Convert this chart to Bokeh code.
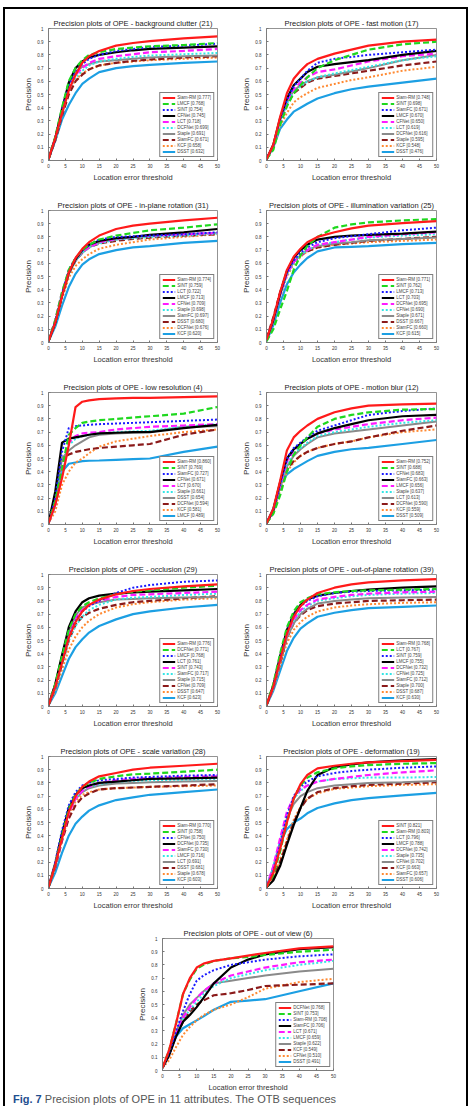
from bokeh.plotting import figure
from bokeh.layouts import column, row
from bokeh.models import Range1d, FixedTicker, PrintfTickFormatter, Legend, LegendItem, Div
from bokeh.embed import file_html
from bokeh.resources import INLINE

THRESHOLDS = [0, 2, 4, 6, 8, 10, 12, 15, 20, 25, 30, 40, 50]
X_TICKS = [0, 5, 10, 15, 20, 25, 30, 35, 40, 45, 50]
Y_TICKS = [0, 0.1, 0.2, 0.3, 0.4, 0.5, 0.6, 0.7, 0.8, 0.9, 1]

LINE_COLORS = ["#ff1a1a", "#1ed81e", "#1a1aff", "#000000", "#ff1aff",
               "#33e6e6", "#8a8a8a", "#8b1a1a", "#ff8a33", "#1c9fe3"]
LINE_DASHES = ["solid", "6 3", "2 2", "solid", "6 3", "2 2", "solid", "6 3", "2 2", "solid"]
LINE_WIDTHS = [2.2, 2.2, 2.0, 2.2, 2.2, 2.0, 2.0, 2.2, 2.0, 2.2]

# 1 background clutter
BC_TITLE = "Precision plots of OPE - background clutter (21)"
BC_NAMES = ["Siam-RM", "LMCF", "SINT", "CFNet", "LCT", "DCFNet", "Staple", "SiamFC", "KCF", "DSST"]
BC_SCORES = [0.777, 0.768, 0.754, 0.745, 0.718, 0.699, 0.691, 0.671, 0.658, 0.632]
BC_CURVES = [
    [0.01, 0.17, 0.36, 0.53, 0.65, 0.74, 0.79, 0.83, 0.87, 0.89, 0.905, 0.925, 0.94],
    [0.01, 0.18, 0.40, 0.60, 0.70, 0.76, 0.80, 0.82, 0.845, 0.855, 0.865, 0.875, 0.89],
    [0.01, 0.17, 0.38, 0.57, 0.67, 0.73, 0.77, 0.80, 0.83, 0.845, 0.86, 0.87, 0.885],
    [0.01, 0.17, 0.38, 0.59, 0.70, 0.75, 0.78, 0.80, 0.82, 0.835, 0.845, 0.855, 0.865],
    [0.01, 0.17, 0.37, 0.55, 0.65, 0.70, 0.74, 0.77, 0.79, 0.805, 0.82, 0.83, 0.845],
    [0.01, 0.16, 0.36, 0.53, 0.63, 0.68, 0.72, 0.75, 0.77, 0.785, 0.795, 0.805, 0.815],
    [0.01, 0.17, 0.40, 0.58, 0.67, 0.71, 0.73, 0.75, 0.76, 0.77, 0.78, 0.79, 0.795],
    [0.01, 0.15, 0.34, 0.50, 0.60, 0.65, 0.69, 0.72, 0.74, 0.755, 0.765, 0.78, 0.79],
    [0.01, 0.16, 0.35, 0.52, 0.61, 0.66, 0.69, 0.72, 0.74, 0.75, 0.76, 0.77, 0.78],
    [0.01, 0.15, 0.31, 0.42, 0.51, 0.58, 0.62, 0.67, 0.70, 0.715, 0.725, 0.74, 0.75],
]

# 2 fast motion
FM_TITLE = "Precision plots of OPE - fast motion (17)"
FM_NAMES = ["Siam-RM", "SINT", "SiamFC", "LMCF", "CFNet", "LCT", "DCFNet", "Staple", "KCF", "DSST"]
FM_SCORES = [0.748, 0.698, 0.671, 0.670, 0.650, 0.619, 0.616, 0.595, 0.548, 0.476]
FM_CURVES = [
    [0.01, 0.12, 0.33, 0.51, 0.62, 0.68, 0.73, 0.77, 0.81, 0.84, 0.87, 0.90, 0.915],
    [0.01, 0.08, 0.27, 0.41, 0.51, 0.57, 0.63, 0.70, 0.76, 0.80, 0.84, 0.88, 0.90],
    [0.01, 0.11, 0.30, 0.46, 0.56, 0.62, 0.68, 0.74, 0.77, 0.785, 0.80, 0.82, 0.84],
    [0.01, 0.12, 0.32, 0.47, 0.57, 0.62, 0.67, 0.71, 0.73, 0.745, 0.76, 0.80, 0.83],
    [0.01, 0.11, 0.30, 0.45, 0.54, 0.59, 0.63, 0.67, 0.69, 0.72, 0.75, 0.79, 0.81],
    [0.01, 0.10, 0.29, 0.43, 0.52, 0.56, 0.60, 0.63, 0.66, 0.685, 0.71, 0.76, 0.79],
    [0.01, 0.11, 0.30, 0.44, 0.53, 0.57, 0.60, 0.63, 0.65, 0.675, 0.70, 0.76, 0.80],
    [0.01, 0.10, 0.28, 0.42, 0.51, 0.55, 0.59, 0.62, 0.64, 0.66, 0.68, 0.72, 0.75],
    [0.01, 0.10, 0.26, 0.36, 0.44, 0.48, 0.51, 0.55, 0.58, 0.61, 0.63, 0.68, 0.71],
    [0.01, 0.10, 0.24, 0.31, 0.37, 0.40, 0.43, 0.47, 0.51, 0.54, 0.56, 0.59, 0.62],
]

# 3 in-plane rotation
IPR_TITLE = "Precision plots of OPE - in-plane rotation (31)"
IPR_NAMES = ["Siam-RM", "SINT", "LCT", "LMCF", "CFNet", "Staple", "SiamFC", "DSST", "DCFNet", "KCF"]
IPR_SCORES = [0.774, 0.759, 0.722, 0.713, 0.709, 0.698, 0.697, 0.680, 0.676, 0.620]
IPR_CURVES = [
    [0.01, 0.15, 0.35, 0.53, 0.64, 0.71, 0.76, 0.81, 0.86, 0.885, 0.90, 0.925, 0.945],
    [0.01, 0.17, 0.38, 0.55, 0.64, 0.70, 0.74, 0.78, 0.81, 0.83, 0.85, 0.87, 0.895],
    [0.01, 0.16, 0.37, 0.55, 0.64, 0.70, 0.74, 0.78, 0.80, 0.805, 0.81, 0.82, 0.835],
    [0.01, 0.15, 0.36, 0.53, 0.63, 0.70, 0.74, 0.77, 0.79, 0.80, 0.815, 0.835, 0.86],
    [0.01, 0.17, 0.38, 0.54, 0.63, 0.69, 0.72, 0.76, 0.785, 0.80, 0.81, 0.82, 0.83],
    [0.01, 0.16, 0.37, 0.53, 0.62, 0.68, 0.72, 0.75, 0.78, 0.79, 0.80, 0.81, 0.825],
    [0.01, 0.15, 0.35, 0.52, 0.62, 0.68, 0.72, 0.755, 0.78, 0.795, 0.805, 0.82, 0.83],
    [0.01, 0.15, 0.35, 0.52, 0.62, 0.68, 0.72, 0.75, 0.77, 0.785, 0.795, 0.81, 0.82],
    [0.01, 0.14, 0.33, 0.49, 0.58, 0.63, 0.67, 0.71, 0.74, 0.76, 0.78, 0.80, 0.82],
    [0.01, 0.12, 0.28, 0.42, 0.52, 0.59, 0.63, 0.67, 0.70, 0.72, 0.73, 0.755, 0.77],
]

# 4 illumination variation
IV_TITLE = "Precision plots of OPE - illumination variation (25)"
IV_NAMES = ["Siam-RM", "SINT", "LMCF", "LCT", "DCFNet", "CFNet", "Staple", "DSST", "SiamFC", "KCF"]
IV_SCORES = [0.771, 0.762, 0.713, 0.703, 0.695, 0.690, 0.671, 0.667, 0.660, 0.615]
IV_CURVES = [
    [0.02, 0.18, 0.38, 0.55, 0.65, 0.71, 0.76, 0.80, 0.835, 0.865, 0.885, 0.905, 0.92],
    [0.01, 0.10, 0.25, 0.39, 0.55, 0.66, 0.73, 0.80, 0.87, 0.895, 0.91, 0.925, 0.935],
    [0.02, 0.17, 0.37, 0.53, 0.62, 0.68, 0.72, 0.76, 0.79, 0.805, 0.82, 0.85, 0.87],
    [0.02, 0.17, 0.37, 0.54, 0.64, 0.70, 0.74, 0.78, 0.80, 0.81, 0.815, 0.825, 0.84],
    [0.02, 0.17, 0.36, 0.52, 0.61, 0.66, 0.70, 0.74, 0.76, 0.78, 0.80, 0.82, 0.835],
    [0.02, 0.16, 0.35, 0.51, 0.60, 0.66, 0.70, 0.74, 0.76, 0.78, 0.795, 0.81, 0.82],
    [0.02, 0.17, 0.36, 0.52, 0.61, 0.66, 0.70, 0.73, 0.75, 0.76, 0.775, 0.785, 0.795],
    [0.03, 0.19, 0.38, 0.53, 0.61, 0.66, 0.69, 0.72, 0.74, 0.755, 0.77, 0.785, 0.80],
    [0.02, 0.16, 0.34, 0.50, 0.59, 0.65, 0.69, 0.72, 0.74, 0.75, 0.76, 0.77, 0.78],
    [0.01, 0.13, 0.30, 0.44, 0.53, 0.59, 0.64, 0.69, 0.72, 0.725, 0.73, 0.745, 0.755],
]

# 5 low resolution
LR_TITLE = "Precision plots of OPE - low resolution (4)"
LR_NAMES = ["Siam-RM", "SINT", "SiamFC", "CFNet", "LCT", "Staple", "DSST", "DCFNet", "KCF", "LMCF"]
LR_SCORES = [0.860, 0.769, 0.727, 0.671, 0.670, 0.661, 0.654, 0.594, 0.581, 0.489]
LR_CURVES = [
    [0.01, 0.15, 0.35, 0.60, 0.89, 0.93, 0.94, 0.95, 0.955, 0.96, 0.96, 0.965, 0.97],
    [0.01, 0.18, 0.42, 0.68, 0.73, 0.77, 0.78, 0.79, 0.80, 0.81, 0.82, 0.84, 0.89],
    [0.01, 0.20, 0.55, 0.73, 0.745, 0.75, 0.755, 0.76, 0.765, 0.77, 0.775, 0.785, 0.795],
    [0.01, 0.25, 0.62, 0.65, 0.66, 0.67, 0.68, 0.69, 0.695, 0.70, 0.70, 0.73, 0.755],
    [0.01, 0.15, 0.40, 0.62, 0.67, 0.69, 0.695, 0.70, 0.72, 0.73, 0.74, 0.75, 0.76],
    [0.01, 0.14, 0.38, 0.60, 0.65, 0.67, 0.68, 0.69, 0.70, 0.705, 0.71, 0.74, 0.76],
    [0.01, 0.18, 0.50, 0.56, 0.60, 0.63, 0.66, 0.68, 0.69, 0.695, 0.70, 0.74, 0.745],
    [0.01, 0.18, 0.50, 0.53, 0.55, 0.56, 0.57, 0.58, 0.59, 0.60, 0.61, 0.68, 0.72],
    [0.01, 0.10, 0.30, 0.40, 0.47, 0.50, 0.54, 0.59, 0.63, 0.65, 0.67, 0.70, 0.72],
    [0.01, 0.15, 0.40, 0.46, 0.47, 0.48, 0.483, 0.485, 0.49, 0.495, 0.50, 0.55, 0.59],
]

# 6 motion blur
MB_TITLE = "Precision plots of OPE - motion blur (12)"
MB_NAMES = ["Siam-RM", "SINT", "CFNet", "SiamFC", "LMCF", "Staple", "LCT", "DCFNet", "KCF", "DSST"]
MB_SCORES = [0.752, 0.688, 0.683, 0.663, 0.656, 0.637, 0.613, 0.590, 0.559, 0.509]
MB_CURVES = [
    [0.01, 0.12, 0.33, 0.56, 0.66, 0.71, 0.75, 0.80, 0.85, 0.88, 0.90, 0.91, 0.915],
    [0.01, 0.08, 0.22, 0.40, 0.53, 0.60, 0.66, 0.74, 0.80, 0.83, 0.85, 0.87, 0.875],
    [0.01, 0.10, 0.30, 0.50, 0.58, 0.62, 0.66, 0.71, 0.75, 0.79, 0.83, 0.86, 0.88],
    [0.01, 0.11, 0.32, 0.50, 0.57, 0.61, 0.65, 0.69, 0.73, 0.76, 0.79, 0.82, 0.83],
    [0.01, 0.10, 0.30, 0.48, 0.56, 0.61, 0.65, 0.69, 0.72, 0.74, 0.76, 0.79, 0.81],
    [0.01, 0.10, 0.29, 0.46, 0.54, 0.58, 0.62, 0.67, 0.70, 0.72, 0.74, 0.77, 0.79],
    [0.01, 0.10, 0.28, 0.44, 0.52, 0.57, 0.61, 0.66, 0.69, 0.705, 0.72, 0.75, 0.78],
    [0.01, 0.09, 0.27, 0.42, 0.48, 0.52, 0.55, 0.58, 0.61, 0.63, 0.66, 0.71, 0.75],
    [0.01, 0.09, 0.26, 0.40, 0.47, 0.52, 0.55, 0.58, 0.61, 0.63, 0.66, 0.70, 0.72],
    [0.01, 0.12, 0.30, 0.38, 0.42, 0.45, 0.48, 0.52, 0.55, 0.57, 0.58, 0.61, 0.64],
]

# 7 occlusion
OCC_TITLE = "Precision plots of OPE - occlusion (29)"
OCC_NAMES = ["Siam-RM", "DCFNet", "LMCF", "LCT", "SINT", "SiamFC", "Staple", "CFNet", "DSST", "KCF"]
OCC_SCORES = [0.776, 0.771, 0.768, 0.761, 0.743, 0.717, 0.715, 0.709, 0.647, 0.623]
OCC_CURVES = [
    [0.01, 0.15, 0.33, 0.52, 0.64, 0.72, 0.77, 0.81, 0.85, 0.875, 0.89, 0.91, 0.925],
    [0.01, 0.17, 0.38, 0.58, 0.70, 0.76, 0.79, 0.82, 0.85, 0.87, 0.88, 0.90, 0.915],
    [0.01, 0.15, 0.34, 0.53, 0.65, 0.72, 0.76, 0.80, 0.86, 0.90, 0.92, 0.945, 0.955],
    [0.01, 0.17, 0.39, 0.60, 0.72, 0.79, 0.82, 0.84, 0.855, 0.865, 0.87, 0.88, 0.89],
    [0.01, 0.16, 0.36, 0.55, 0.67, 0.73, 0.77, 0.80, 0.83, 0.845, 0.85, 0.86, 0.87],
    [0.01, 0.14, 0.32, 0.50, 0.61, 0.68, 0.73, 0.77, 0.81, 0.825, 0.83, 0.845, 0.855],
    [0.01, 0.16, 0.37, 0.57, 0.69, 0.75, 0.77, 0.79, 0.81, 0.815, 0.82, 0.825, 0.83],
    [0.01, 0.14, 0.32, 0.50, 0.62, 0.68, 0.71, 0.74, 0.77, 0.79, 0.80, 0.82, 0.835],
    [0.01, 0.12, 0.28, 0.43, 0.53, 0.60, 0.65, 0.70, 0.75, 0.775, 0.79, 0.81, 0.82],
    [0.01, 0.10, 0.23, 0.36, 0.45, 0.51, 0.56, 0.61, 0.66, 0.70, 0.72, 0.75, 0.77],
]

# 8 out-of-plane rotation
OPR_TITLE = "Precision plots of OPE - out-of-plane rotation (39)"
OPR_NAMES = ["Siam-RM", "LCT", "SINT", "LMCF", "DCFNet", "CFNet", "SiamFC", "Staple", "DSST", "KCF"]
OPR_SCORES = [0.768, 0.767, 0.759, 0.755, 0.732, 0.725, 0.712, 0.700, 0.687, 0.630]
OPR_CURVES = [
    [0.01, 0.15, 0.35, 0.55, 0.68, 0.76, 0.81, 0.86, 0.90, 0.925, 0.94, 0.955, 0.965],
    [0.01, 0.17, 0.40, 0.60, 0.72, 0.79, 0.82, 0.85, 0.865, 0.875, 0.88, 0.885, 0.89],
    [0.01, 0.15, 0.37, 0.57, 0.69, 0.76, 0.80, 0.835, 0.86, 0.87, 0.875, 0.88, 0.885],
    [0.01, 0.16, 0.38, 0.58, 0.70, 0.77, 0.81, 0.84, 0.86, 0.875, 0.885, 0.90, 0.91],
    [0.01, 0.15, 0.36, 0.55, 0.66, 0.73, 0.77, 0.81, 0.83, 0.845, 0.855, 0.865, 0.87],
    [0.01, 0.14, 0.35, 0.54, 0.65, 0.72, 0.76, 0.80, 0.82, 0.835, 0.845, 0.855, 0.86],
    [0.01, 0.14, 0.34, 0.52, 0.63, 0.70, 0.74, 0.78, 0.80, 0.81, 0.82, 0.825, 0.83],
    [0.01, 0.14, 0.33, 0.52, 0.63, 0.69, 0.73, 0.76, 0.78, 0.79, 0.80, 0.805, 0.81],
    [0.01, 0.13, 0.31, 0.48, 0.58, 0.64, 0.68, 0.72, 0.75, 0.765, 0.775, 0.785, 0.79],
    [0.01, 0.12, 0.27, 0.42, 0.52, 0.59, 0.63, 0.68, 0.71, 0.73, 0.745, 0.755, 0.765],
]

# 9 scale variation
SV_TITLE = "Precision plots of OPE - scale variation (28)"
SV_NAMES = ["Siam-RM", "SINT", "CFNet", "DCFNet", "SiamFC", "LMCF", "LCT", "DSST", "Staple", "KCF"]
SV_SCORES = [0.770, 0.758, 0.750, 0.735, 0.730, 0.716, 0.691, 0.681, 0.678, 0.603]
SV_CURVES = [
    [0.01, 0.18, 0.38, 0.58, 0.70, 0.77, 0.81, 0.85, 0.875, 0.90, 0.915, 0.93, 0.945],
    [0.01, 0.18, 0.40, 0.60, 0.71, 0.77, 0.80, 0.83, 0.85, 0.865, 0.87, 0.885, 0.90],
    [0.01, 0.20, 0.44, 0.63, 0.73, 0.78, 0.80, 0.82, 0.83, 0.84, 0.845, 0.855, 0.86],
    [0.01, 0.19, 0.42, 0.61, 0.71, 0.76, 0.78, 0.80, 0.81, 0.82, 0.83, 0.835, 0.84],
    [0.01, 0.17, 0.38, 0.57, 0.68, 0.74, 0.77, 0.80, 0.82, 0.83, 0.835, 0.845, 0.85],
    [0.01, 0.18, 0.40, 0.59, 0.69, 0.74, 0.77, 0.79, 0.81, 0.815, 0.82, 0.825, 0.83],
    [0.01, 0.18, 0.40, 0.58, 0.68, 0.73, 0.76, 0.78, 0.795, 0.80, 0.805, 0.81, 0.815],
    [0.01, 0.16, 0.36, 0.53, 0.63, 0.69, 0.72, 0.75, 0.76, 0.765, 0.77, 0.78, 0.79],
    [0.01, 0.16, 0.37, 0.55, 0.66, 0.71, 0.73, 0.75, 0.76, 0.765, 0.77, 0.775, 0.78],
    [0.01, 0.12, 0.27, 0.40, 0.49, 0.545, 0.59, 0.63, 0.67, 0.69, 0.71, 0.73, 0.75],
]

# 10 deformation
DEF_TITLE = "Precision plots of OPE - deformation (19)"
DEF_NAMES = ["SINT", "Siam-RM", "LCT", "LMCF", "DCFNet", "Staple", "CFNet", "KCF", "SiamFC", "DSST"]
DEF_SCORES = [0.821, 0.803, 0.796, 0.788, 0.742, 0.735, 0.702, 0.663, 0.657, 0.606]
DEF_CURVES = [
    [0.01, 0.12, 0.30, 0.50, 0.68, 0.79, 0.86, 0.91, 0.93, 0.945, 0.955, 0.965, 0.975],
    [0.01, 0.10, 0.28, 0.50, 0.68, 0.78, 0.84, 0.88, 0.91, 0.925, 0.935, 0.945, 0.95],
    [0.01, 0.13, 0.33, 0.55, 0.70, 0.77, 0.81, 0.85, 0.875, 0.89, 0.90, 0.915, 0.925],
    [0.01, 0.06, 0.17, 0.33, 0.48, 0.61, 0.74, 0.86, 0.92, 0.94, 0.955, 0.97, 0.98],
    [0.01, 0.17, 0.38, 0.58, 0.69, 0.75, 0.78, 0.81, 0.83, 0.845, 0.86, 0.88, 0.895],
    [0.01, 0.15, 0.36, 0.56, 0.68, 0.74, 0.78, 0.81, 0.83, 0.835, 0.84, 0.84, 0.845],
    [0.01, 0.14, 0.34, 0.53, 0.64, 0.70, 0.73, 0.76, 0.78, 0.79, 0.80, 0.805, 0.815],
    [0.01, 0.08, 0.20, 0.35, 0.50, 0.61, 0.68, 0.73, 0.76, 0.775, 0.785, 0.795, 0.805],
    [0.01, 0.08, 0.21, 0.37, 0.52, 0.62, 0.68, 0.72, 0.755, 0.765, 0.775, 0.785, 0.79],
    [0.01, 0.16, 0.35, 0.45, 0.50, 0.53, 0.57, 0.61, 0.645, 0.67, 0.685, 0.705, 0.725],
]

# 11 out of view
OV_TITLE = "Precision plots of OPE - out of view (6)"
OV_NAMES = ["DCFNet", "SINT", "Siam-RM", "SiamFC", "LCT", "LMCF", "Staple", "KCF", "CFNet", "DSST"]
OV_SCORES = [0.768, 0.753, 0.708, 0.706, 0.671, 0.659, 0.622, 0.549, 0.510, 0.491]
OV_CURVES = [
    [0.02, 0.16, 0.36, 0.58, 0.70, 0.78, 0.81, 0.83, 0.85, 0.87, 0.89, 0.925, 0.94],
    [0.02, 0.16, 0.36, 0.58, 0.69, 0.77, 0.80, 0.83, 0.85, 0.86, 0.875, 0.90, 0.915],
    [0.02, 0.14, 0.30, 0.45, 0.58, 0.68, 0.72, 0.76, 0.80, 0.82, 0.84, 0.865, 0.88],
    [0.02, 0.12, 0.26, 0.37, 0.42, 0.48, 0.55, 0.66, 0.78, 0.84, 0.88, 0.92, 0.935],
    [0.02, 0.13, 0.28, 0.40, 0.48, 0.55, 0.60, 0.66, 0.72, 0.75, 0.78, 0.82, 0.84],
    [0.02, 0.13, 0.27, 0.39, 0.46, 0.52, 0.58, 0.64, 0.70, 0.73, 0.76, 0.80, 0.83],
    [0.02, 0.13, 0.29, 0.42, 0.50, 0.55, 0.60, 0.66, 0.68, 0.70, 0.72, 0.75, 0.77],
    [0.02, 0.12, 0.27, 0.37, 0.45, 0.50, 0.53, 0.57, 0.585, 0.61, 0.64, 0.65, 0.66],
    [0.02, 0.08, 0.18, 0.27, 0.33, 0.38, 0.42, 0.46, 0.50, 0.555, 0.62, 0.67, 0.695],
    [0.02, 0.13, 0.26, 0.32, 0.35, 0.38, 0.41, 0.46, 0.52, 0.53, 0.54, 0.60, 0.66],
]

CAPTION_LABEL = "Fig. 7"
CAPTION_TEXT = "Precision plots of OPE in 11 attributes. The OTB sequences"

FONT = "Liberation Sans"


def make_panel(title, names, scores, curves, left, right, frame_w, bottom=31):
    p = figure(title=title, frame_width=frame_w, frame_height=132,
               min_border_left=left, min_border_right=right,
               min_border_top=19, min_border_bottom=bottom,
               x_range=Range1d(0, 50), y_range=Range1d(0, 1),
               output_backend="svg", toolbar_location=None)
    p.title.text_font = FONT
    p.title.text_font_size = "7.5px"
    p.title.text_font_style = "normal"
    p.title.text_color = "#222222"
    p.title.align = "center"
    p.title.standoff = 2
    p.grid.visible = False
    p.outline_line_color = "#777777"
    p.outline_line_width = 0.8

    for ax in (p.xaxis[0], p.yaxis[0]):
        ax.axis_line_color = "#777777"
        ax.axis_line_width = 0.8
        ax.major_tick_line_color = "#777777"
        ax.major_tick_in = 2
        ax.major_tick_out = 0
        ax.minor_tick_line_color = None
        ax.major_label_text_font = FONT
        ax.major_label_text_font_size = "4.5px"
        ax.major_label_text_color = "#333333"
        ax.axis_label_text_font = FONT
        ax.axis_label_text_font_style = "normal"
        ax.axis_label_text_color = "#333333"

    p.xaxis.ticker = FixedTicker(ticks=X_TICKS)
    p.yaxis.ticker = FixedTicker(ticks=Y_TICKS)
    p.yaxis.formatter = PrintfTickFormatter(format="%g")
    p.xaxis.axis_label = "Location error threshold"
    p.yaxis.axis_label = "Precision"
    p.xaxis.axis_label_text_font_size = "7.5px"
    p.yaxis.axis_label_text_font_size = "8px"
    p.xaxis.major_label_standoff = 3
    p.yaxis.major_label_standoff = 5
    p.xaxis.axis_label_standoff = 2
    p.yaxis.axis_label_standoff = 1

    rends = {}
    for i in reversed(range(len(names))):
        rends[i] = p.line(THRESHOLDS, curves[i], line_color=LINE_COLORS[i],
                          line_dash=LINE_DASHES[i], line_width=LINE_WIDTHS[i])
    items = [LegendItem(label=f"{names[i]} [{scores[i]:.3f}]", renderers=[rends[i]])
             for i in range(len(names))]
    legend = Legend(items=items, location="bottom_right")
    legend.label_text_font = FONT
    legend.label_text_font_size = "4.5px"
    legend.label_height = 5
    legend.glyph_height = 5
    legend.glyph_width = 13
    legend.spacing = 1
    legend.padding = 2
    legend.margin = 3
    legend.label_standoff = 2
    legend.border_line_color = "black"
    legend.border_line_width = 0.8
    legend.background_fill_alpha = 1
    p.add_layout(legend)
    return p


def left_panel(t, n, s, c):
    return make_panel(t, n, s, c, left=43, right=20, frame_w=169)


def right_panel(t, n, s, c):
    return make_panel(t, n, s, c, left=29, right=30, frame_w=170)


rows = [
    row(left_panel(BC_TITLE, BC_NAMES, BC_SCORES, BC_CURVES),
        right_panel(FM_TITLE, FM_NAMES, FM_SCORES, FM_CURVES), spacing=0),
    row(left_panel(IPR_TITLE, IPR_NAMES, IPR_SCORES, IPR_CURVES),
        right_panel(IV_TITLE, IV_NAMES, IV_SCORES, IV_CURVES), spacing=0),
    row(left_panel(LR_TITLE, LR_NAMES, LR_SCORES, LR_CURVES),
        right_panel(MB_TITLE, MB_NAMES, MB_SCORES, MB_CURVES), spacing=0),
    row(left_panel(OCC_TITLE, OCC_NAMES, OCC_SCORES, OCC_CURVES),
        right_panel(OPR_TITLE, OPR_NAMES, OPR_SCORES, OPR_CURVES), spacing=0),
    row(left_panel(SV_TITLE, SV_NAMES, SV_SCORES, SV_CURVES),
        right_panel(DEF_TITLE, DEF_NAMES, DEF_SCORES, DEF_CURVES), spacing=0),
]
last = make_panel(OV_TITLE, OV_NAMES, OV_SCORES, OV_CURVES, left=157, right=20,
                  frame_w=171, bottom=20)

caption = Div(text=f'<span style="color:#1f4f8f;font-weight:bold">{CAPTION_LABEL}</span> {CAPTION_TEXT}',
              width=461, height=12, margin=(0, 0, 0, 0),
              styles={"font-family": FONT, "font-size": "11px", "color": "#555555",
                      "padding-left": "8px", "white-space": "nowrap",
                      "line-height": "11px"})

layout = column(*rows, last, caption, spacing=0, margin=(7, 0, 0, 3),
                styles={"border-left": "2px solid black", "border-right": "2px solid black",
                        "border-top": "2px solid black"})

open("out.html", "w").write(file_html(layout, INLINE))
